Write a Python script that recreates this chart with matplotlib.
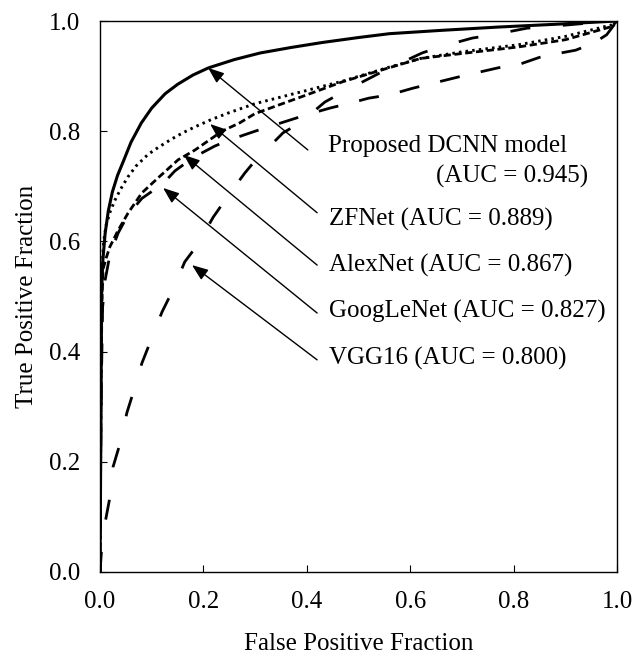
import matplotlib
matplotlib.use("Agg")
import matplotlib.pyplot as plt

plt.rcParams['font.family'] = ['Liberation Serif', 'DejaVu Serif']
plt.rcParams['lines.scale_dashes'] = False

# ---- data ----
proposed_fpr = [0, 0.002, 0.003, 0.005, 0.010, 0.016, 0.024, 0.034, 0.045, 0.060, 0.080, 0.100,
                0.126, 0.150, 0.180, 0.210, 0.260, 0.310, 0.370, 0.430, 0.500, 0.560, 0.660,
                0.770, 0.880, 1.0]
proposed_tpr = [0, 0.30, 0.50, 0.56, 0.615, 0.655, 0.690, 0.720, 0.745, 0.780, 0.815, 0.842,
                0.868, 0.885, 0.902, 0.915, 0.930, 0.942, 0.952, 0.961, 0.970, 0.977, 0.983,
                0.989, 0.994, 1.0]

zfnet_fpr = [0, 0.002, 0.004, 0.007, 0.012, 0.020, 0.029, 0.040, 0.054, 0.070, 0.093, 0.115,
             0.139, 0.160, 0.184, 0.215, 0.248, 0.300, 0.350, 0.400, 0.470, 0.555, 0.620,
             0.700, 0.810, 0.900, 0.990, 1.0]
zfnet_tpr = [0, 0.35, 0.55, 0.60, 0.63, 0.655, 0.675, 0.695, 0.717, 0.737, 0.758, 0.772,
             0.786, 0.797, 0.808, 0.821, 0.833, 0.850, 0.862, 0.874, 0.891, 0.915, 0.932,
             0.944, 0.957, 0.972, 0.993, 1.0]

alexnet_fpr = [0, 0.002, 0.004, 0.006, 0.012, 0.019, 0.027, 0.035, 0.054, 0.081, 0.112, 0.151,
               0.184, 0.236, 0.270, 0.300, 0.400, 0.470, 0.555, 0.620, 0.700, 0.810, 0.900,
               0.990, 1.0]
alexnet_tpr = [0, 0.35, 0.50, 0.55, 0.57, 0.59, 0.605, 0.620, 0.651, 0.688, 0.715, 0.748,
               0.766, 0.800, 0.815, 0.832, 0.866, 0.890, 0.914, 0.932, 0.941, 0.953, 0.966,
               0.990, 1.0]

googlenet_fpr = [0, 0.002, 0.005, 0.010, 0.019, 0.035, 0.054, 0.081, 0.122, 0.145, 0.180, 0.222,
                 0.250, 0.300, 0.360, 0.400, 0.445, 0.484, 0.520, 0.560, 0.605, 0.644, 0.700,
                 0.770, 0.810, 0.850, 0.880, 0.920, 0.955, 0.980, 1.0]
googlenet_tpr = [0, 0.30, 0.48, 0.53, 0.575, 0.615, 0.648, 0.678, 0.705, 0.728, 0.752, 0.773,
                 0.784, 0.800, 0.818, 0.830, 0.842, 0.851, 0.860, 0.866, 0.878, 0.887, 0.900,
                 0.915, 0.921, 0.934, 0.940, 0.947, 0.960, 0.975, 1.0]

vgg16_fpr = [0, 0.003, 0.010, 0.018, 0.025, 0.039, 0.052, 0.064, 0.081, 0.097, 0.120, 0.139,
             0.164, 0.188, 0.219, 0.242, 0.280, 0.296, 0.354, 0.387, 0.435, 0.470, 0.550,
             0.623, 0.658, 0.720, 0.760, 0.826, 0.857, 0.930, 1.0]
vgg16_tpr = [0, 0.04, 0.09, 0.13, 0.19, 0.234, 0.289, 0.325, 0.379, 0.417, 0.472, 0.508,
             0.563, 0.593, 0.644, 0.675, 0.724, 0.742, 0.797, 0.815, 0.853, 0.871, 0.910,
             0.942, 0.953, 0.969, 0.975, 0.987, 0.989, 0.995, 1.0]

labels = ["Proposed DCNN model\n(AUC = 0.945)", "ZFNet (AUC = 0.889)", "AlexNet (AUC = 0.867)",
          "GoogLeNet (AUC = 0.827)", "VGG16 (AUC = 0.800)"]
ticks = [0.0, 0.2, 0.4, 0.6, 0.8, 1.0]
tick_labels = ["0.0", "0.2", "0.4", "0.6", "0.8", "1.0"]

# ---- figure ----
fig = plt.figure(figsize=(6.44, 6.58), dpi=100)
ax = fig.add_axes([100/644, 1-572/658, 517/644, 551/658])

ax.plot(vgg16_fpr, vgg16_tpr, color='black', lw=2.0, linestyle=(0, (14.5, 23.5)))
ax.plot(googlenet_fpr, googlenet_tpr, color='black', lw=2.0, linestyle=(0, (14.5, 15.5)))
ax.plot(alexnet_fpr, alexnet_tpr, color='black', lw=2.0, linestyle=(0, (5.2, 2.6)))
ax.plot(zfnet_fpr, zfnet_tpr, color='black', lw=2.1, linestyle=(0, (1.8, 3.0)))
ax.plot(proposed_fpr, proposed_tpr, color='black', lw=2.2, linestyle='-')

# arrows (tail -> tip) and labels
arrow_tips = [(0.209, 0.915), (0.213, 0.813), (0.162, 0.757), (0.122, 0.697), (0.178, 0.557)]
arrow_tails = [(0.402, 0.766), (0.420, 0.652), (0.420, 0.557), (0.420, 0.470), (0.420, 0.385)]
for tip, tail in zip(arrow_tips, arrow_tails):
    ax.annotate('', xy=tip, xytext=tail,
                arrowprops=dict(arrowstyle='-|>,head_length=0.65,head_width=0.25',
                                mutation_scale=15, lw=1.0, color='black',
                                shrinkA=0, shrinkB=0))

fs = 18
ax.text(0.441, 0.762, "Proposed DCNN model", fontsize=fs, ha='left', va='baseline')
ax.text(0.944, 0.706, "(AUC = 0.945)", fontsize=fs, ha='right', va='baseline')
text_y = [0.628, 0.546, 0.461, 0.377]
for lab, y in zip(labels[1:], text_y):
    ax.text(0.443, y, lab, fontsize=fs, ha='left', va='baseline')

ax.set_xlim(0, 1)
ax.set_ylim(0, 1)
ax.set_xticks(ticks)
ax.set_xticklabels(tick_labels)
ax.set_yticks(ticks)
ax.set_yticklabels(tick_labels)
ax.tick_params(axis='both', direction='in', length=5, width=0.8, labelsize=fs)
ax.tick_params(axis='x', pad=14)
ax.tick_params(axis='y', pad=14)
for s in ax.spines.values():
    s.set_linewidth(1.0)
    s.set_color('black')

ax.set_xlabel("False Positive Fraction", fontsize=fs, labelpad=14)
ax.set_ylabel("True Positive Fraction", fontsize=fs, labelpad=8)

fig.savefig("out.png", dpi=100)
